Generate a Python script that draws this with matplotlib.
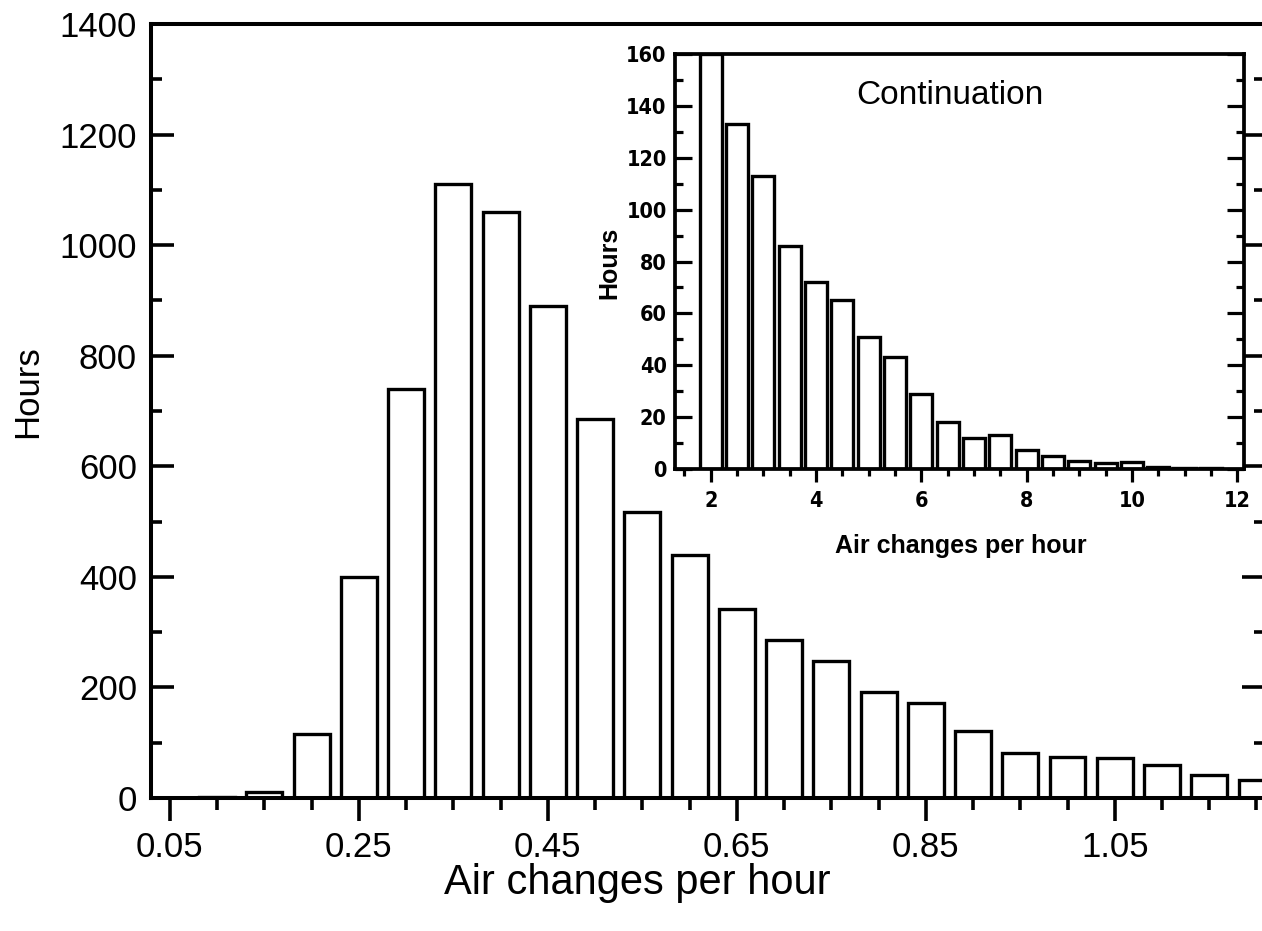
import matplotlib
matplotlib.use("Agg")
import matplotlib.pyplot as plt
from matplotlib import font_manager as fm
from matplotlib.ticker import MultipleLocator

# ---------------- data ----------------
main_x = [0.10, 0.15, 0.20, 0.25, 0.30, 0.35, 0.40, 0.45, 0.50, 0.55, 0.60,
          0.65, 0.70, 0.75, 0.80, 0.85, 0.90, 0.95, 1.00, 1.05, 1.10, 1.15, 1.20]
main_hours = [2, 10, 115, 400, 740, 1110, 1060, 890, 685, 518, 440,
              342, 285, 248, 192, 172, 122, 82, 75, 73, 60, 42, 32]
main_xticks = [0.05, 0.25, 0.45, 0.65, 0.85, 1.05]
main_xticklabels = ["0.05", "0.25", "0.45", "0.65", "0.85", "1.05"]
main_yticks = [0, 200, 400, 600, 800, 1000, 1200, 1400]

inset_x = [2.0, 2.5, 3.0, 3.5, 4.0, 4.5, 5.0, 5.5, 6.0, 6.5, 7.0, 7.5,
           8.0, 8.5, 9.0, 9.5, 10.0, 10.5, 11.0, 11.5]
inset_hours = [160, 133, 113, 86, 72, 65, 51, 43, 29, 18, 12, 13,
               7.5, 5, 3, 2.3, 2.8, 0.9, 0.5, 0.4]
inset_xticks = [2, 4, 6, 8, 10, 12]
inset_yticks = [0, 20, 40, 60, 80, 100, 120, 140, 160]

names = {f.name for f in fm.fontManager.ttflist}
REG = "Liberation Sans" if "Liberation Sans" in names else "DejaVu Sans"

# look for a condensed bold face for the inset tick labels
def find_condensed_bold():
    best = None
    for f in fm.fontManager.ttflist:
        cond = ("Narrow" in f.name or "Condensed" in f.name or
                str(f.stretch) in ("condensed", "semi-condensed", "extra-condensed"))
        if not cond:
            continue
        try:
            w = int(f.weight)
        except (TypeError, ValueError):
            w = 700 if "bold" in str(f.weight).lower() else 400
        if "italic" in str(f.style).lower() or "oblique" in str(f.style).lower():
            continue
        score = abs(w - 700)
        if best is None or score < best[0]:
            best = (score, f.fname)
    return best[1] if best else None

cond_file = find_condensed_bold()

def inset_font(size):
    if cond_file:
        return fm.FontProperties(fname=cond_file, size=size)
    return fm.FontProperties(family=REG, weight="bold", size=size - 1.5)

W, H = 1262, 931
fig = plt.figure(figsize=(W / 100, H / 100), dpi=100)

def fx(px):
    return px / W

def fy(py):
    return 1 - py / H

# ---------------- main axes ----------------
L, R, T, B = 151, 1265, 24, 798
ax = fig.add_axes([fx(L), fy(B), (R - L) / W, (B - T) / H])
ax.bar(main_x, main_hours, width=0.038, facecolor="white", edgecolor="black",
       linewidth=2.4, zorder=2)
ax.set_xlim(0.03, 1.209)
ax.set_ylim(0, 1400)
for s in ax.spines.values():
    s.set_linewidth(2.9)
ax.set_xticks(main_xticks)
ax.set_xticklabels(main_xticklabels)
ax.xaxis.set_minor_locator(MultipleLocator(0.05))
ax.set_yticks(main_yticks)
ax.yaxis.set_minor_locator(MultipleLocator(100))
ax.tick_params(axis="x", which="major", direction="out", length=16.5, width=2.6,
               pad=7, labelsize=25)
ax.tick_params(axis="x", which="minor", direction="out", length=8.5, width=2.6)
ax.tick_params(axis="y", which="major", direction="in", length=16.5, width=2.6,
               pad=10, labelsize=25, right=True)
ax.tick_params(axis="y", which="minor", direction="in", length=8, width=2.6,
               right=True)
for lab in ax.get_xticklabels() + ax.get_yticklabels():
    lab.set_fontfamily(REG)

fig.text(fx(28), fy(392), "Hours", rotation=90, ha="center", va="center",
         fontsize=25, family=REG)
fig.text(fx(637), fy(894), "Air changes per hour", ha="center", va="baseline",
         fontsize=30, family=REG)

# ---------------- inset axes ----------------
iL, iR, iT, iB = 675, 1244, 54, 469
ia = fig.add_axes([fx(iL), fy(iB), (iR - iL) / W, (iB - iT) / H])
ia.set_facecolor("white")
ia.bar(inset_x, inset_hours, width=0.42, facecolor="white", edgecolor="black",
       linewidth=2.4, zorder=2)
ia.set_xlim(1.32, 12.13)
ia.set_ylim(0, 160)
for s in ia.spines.values():
    s.set_linewidth(2.7)
ia.set_xticks(inset_xticks)
ia.xaxis.set_minor_locator(MultipleLocator(0.5))
ia.set_yticks(inset_yticks)
ia.yaxis.set_minor_locator(MultipleLocator(10))
ia.tick_params(axis="x", which="major", direction="out", length=9.5, width=2.3,
               pad=6)
ia.tick_params(axis="x", which="minor", direction="out", length=5, width=2.3)
ia.tick_params(axis="y", which="major", direction="in", length=12, width=2.3,
               pad=6, right=True)
ia.tick_params(axis="y", which="minor", direction="in", length=5.5, width=2.3,
               right=True)
for lab in ia.get_xticklabels() + ia.get_yticklabels():
    lab.set_fontproperties(inset_font(15.5))

fig.text(fx(950), fy(104), "Continuation", ha="center", va="baseline",
         fontsize=24, family=REG)
fig.text(fx(609), fy(263), "Hours", rotation=90, ha="center", va="center",
         fontsize=18, family=REG, fontweight="bold")
fig.text(fx(961), fy(553), "Air changes per hour", ha="center", va="baseline",
         fontsize=18, family=REG, fontweight="bold")

fig.savefig("out.png", dpi=100, facecolor="white")
